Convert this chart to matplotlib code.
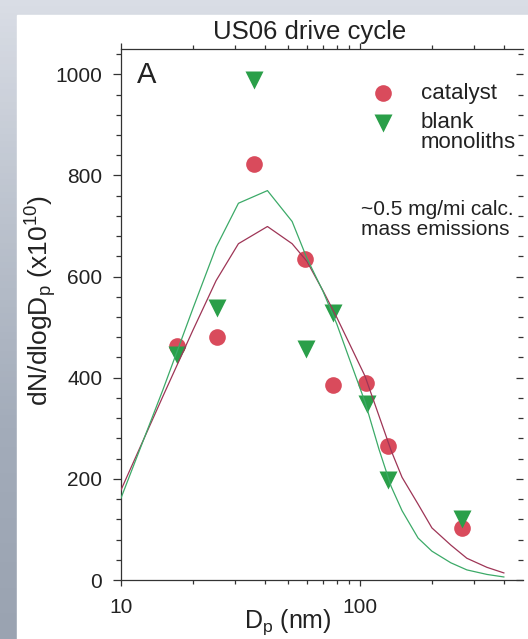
import numpy as np
import matplotlib.pyplot as plt
from matplotlib.colors import LinearSegmentedColormap
from matplotlib.patches import Rectangle
from matplotlib.ticker import FixedLocator, MultipleLocator, NullFormatter

plt.rcParams['font.family'] = ['Liberation Sans', 'DejaVu Sans']
plt.rcParams['mathtext.default'] = 'regular'

# measured number distributions (Dp in nm, dN/dlogDp in 1e10)
dp_catalyst = [17.2, 25.1, 36.1, 58.9, 77.3, 105.6, 131.3, 268]
n_catalyst = [462, 481, 823, 635, 385, 389, 264, 102]
dp_blank = [17.2, 25.1, 36.1, 59.4, 77.3, 106.5, 131.5, 268]
n_blank = [445, 538, 988, 456, 528, 348, 198, 120]

# fitted curves, read at these diameters
dp_fit = [10, 15, 20, 25, 31, 41, 52, 60, 70, 80, 90, 105, 120, 135, 150,
          175, 200, 240, 280, 340, 400]
fit_catalyst = [178, 364, 494, 592, 665, 699, 665, 630, 572, 519, 469, 403,
                325, 256, 203, 150, 103, 69, 43, 25, 14]
fit_blank = [162, 377, 537, 658, 745, 770, 709, 636, 571, 506, 439, 352,
             259, 185, 137, 83, 57, 34, 20, 11, 6]

W, H = 528, 639
fig = plt.figure(figsize=(W / 100, H / 100), dpi=100)

# bluish slide background with a white panel
bg = fig.add_axes([0, 0, 1, 1], zorder=-10)
bg_cmap = LinearSegmentedColormap.from_list(
    'bg', ['#d9dde5', '#bcc3ce', '#a3acba', '#9aa3b1'])
bg.imshow(np.linspace(0, 1, 100)[:, None], cmap=bg_cmap, aspect='auto',
          extent=[0, 1, 0, 1])
bg.add_patch(Rectangle((17 / W, 0), 1, 1 - 15 / H, color='white'))
bg.set_xlim(0, 1)
bg.set_ylim(0, 1)
bg.axis('off')

ax = fig.add_axes([121 / W, 1 - 580 / H, (523 - 121) / W, (580 - 49) / H])
ax.set_facecolor('none')

red = '#d94b5c'
green = '#2a9f49'
txt = '#222222'

ax.plot(dp_catalyst, n_catalyst, 'o', color=red, ms=12, mec='none',
        zorder=3)
ax.plot(dp_blank, n_blank, 'v', color=green, ms=12.5, mec='none', zorder=4)
ax.plot(dp_fit, fit_catalyst, color='#9e3556', lw=0.9, zorder=5)
ax.plot(dp_fit, fit_blank, color='#3caa68', lw=0.9, zorder=5)

ax.set_xscale('log')
ax.set_xlim(10, 481)
ax.set_ylim(0, 1050)

ax.xaxis.set_major_locator(FixedLocator([10, 100]))
ax.xaxis.set_minor_locator(FixedLocator([20, 30, 40, 50, 60, 70, 80, 90,
                                         200, 300, 400]))
ax.set_xticklabels(['10', '100'])
ax.xaxis.set_minor_formatter(NullFormatter())
ax.set_yticks(range(0, 1001, 200))
ax.yaxis.set_minor_locator(MultipleLocator(40))

tick_col = '#333333'
ax.tick_params(axis='x', which='both', direction='out', top=True,
               labelsize=15, colors=tick_col, labelcolor=txt, pad=9)
ax.tick_params(axis='x', which='major', length=4.3, width=0.9)
ax.tick_params(axis='x', which='minor', length=2.8, width=0.9)
ax.tick_params(axis='y', which='both', direction='out', labelsize=15,
               colors=tick_col, labelcolor=txt, pad=8)
ax.tick_params(axis='y', which='major', length=5.5, width=0.9)
ax.tick_params(axis='y', which='minor', length=3.6, width=0.9)

for side in ['left', 'bottom', 'top']:
    ax.spines[side].set_color(tick_col)
    ax.spines[side].set_linewidth(0.9)
ax.spines['right'].set_visible(False)

# inward ticks on the right side
ax2 = ax.twinx()
ax2.set_ylim(0, 1050)
ax2.set_yticks(range(0, 1001, 200))
ax2.yaxis.set_minor_locator(MultipleLocator(40))
ax2.tick_params(axis='y', which='both', direction='in', labelright=False,
                colors=tick_col)
ax2.tick_params(axis='y', which='major', length=5, width=0.9)
ax2.tick_params(axis='y', which='minor', length=3.6, width=0.9)
for s in ax2.spines.values():
    s.set_visible(False)

ax.set_xlabel('D$_{p}$ (nm)', fontsize=18, color=txt)
ax.xaxis.set_label_coords((288 - 121) / 402, -(607 - 580) / 531)
ax.set_ylabel('dN/dlogD$_{p}$ (x10$^{10}$)', fontsize=19, color=txt)
ax.yaxis.set_label_coords(-(121 - 59) / 402, (580 - 301) / 531)

fig.text(310 / W, 1 - 32 / H, 'US06 drive cycle', ha='center', va='center',
         fontsize=18.5, color=txt)
fig.text(137 / W, 1 - 75 / H, 'A', ha='left', va='center', fontsize=21,
         color=txt)
fig.text(361 / W, 1 - 200 / H, '~0.5 mg/mi calc.\nmass emissions',
         ha='left', va='top', fontsize=15, color=txt, linespacing=1.05)

# key for the two series
ax.plot([0.6505], [0.9166], 'o', color=red, ms=12, mec='none',
        transform=ax.transAxes, clip_on=False)
ax.plot([0.6505], [0.860], 'v', color=green, ms=12.5, mec='none',
        transform=ax.transAxes, clip_on=False)
fig.text(421 / W, 1 - 99.5 / H, 'catalyst', va='baseline', fontsize=16,
         color=txt)
fig.text(421 / W, 1 - 128.5 / H, 'blank', va='baseline', fontsize=16,
         color=txt)
fig.text(421 / W, 1 - 148.5 / H, 'monoliths', va='baseline', fontsize=16,
         color=txt)

fig.savefig('out.png', dpi=100)
